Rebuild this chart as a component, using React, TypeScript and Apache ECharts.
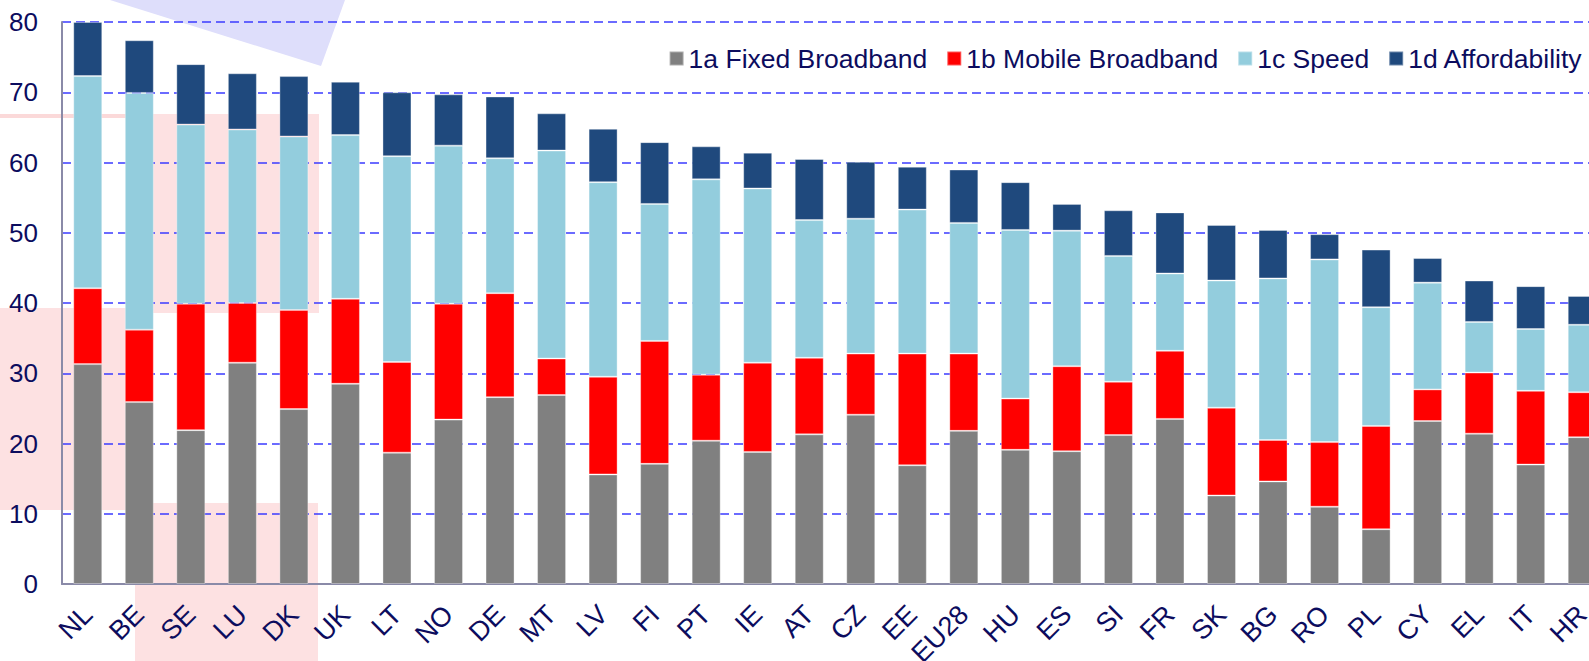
import React, { useEffect, useRef } from "react";
import * as echarts from "echarts";

const categories = ["NL","BE","SE","LU","DK","UK","LT","NO","DE","MT","LV","FI","PT","IE","AT","CZ","EE","EU28","HU","ES","SI","FR","SK","BG","RO","PL","CY","EL","IT","HR"];
const fixedBroadband = [31.3,25.9,21.9,31.5,24.9,28.5,18.7,23.4,26.6,26.9,15.6,17.1,20.4,18.8,21.3,24.1,16.9,21.8,19.1,18.9,21.2,23.5,12.6,14.6,11.0,7.8,23.2,21.4,17.0,20.9];
const mobileBroadband = [10.8,10.3,18.0,8.5,14.1,12.1,12.9,16.5,14.8,5.2,13.9,17.5,9.4,12.7,10.9,8.7,15.9,11.0,7.3,12.1,7.6,9.7,12.5,5.9,9.2,14.7,4.5,8.7,10.5,6.4];
const speed = [30.2,33.7,25.5,24.7,24.7,23.3,29.3,22.5,19.2,29.6,27.7,19.5,27.8,24.8,19.6,19.2,20.5,18.6,24.0,19.3,17.9,11.0,18.1,23.0,26.0,16.9,15.2,7.2,8.8,9.6];
const affordability = [7.7,7.5,8.6,8.0,8.6,7.6,9.1,7.3,8.8,5.3,7.6,8.8,4.7,5.1,8.7,8.1,6.1,7.6,6.8,3.8,6.5,8.7,7.9,6.9,3.6,8.2,3.5,5.9,6.1,4.1];
const seriesNames = ["1a Fixed Broadband","1b Mobile Broadband","1c Speed","1d Affordability"];
const yTicks = { min: 0, max: 80, interval: 10 };

const NAVY = "#0c0c5e";
const FONT = "'Liberation Sans', Arial, Helvetica, sans-serif";
const colors = ["#808080", "#ff0000", "#93cddd", "#1f497d"];
const PINK = "#fde1e2";

export default function App() {
  const ref = useRef<HTMLDivElement>(null);
  useEffect(() => {
    if (!ref.current) return;
    const chart = echarts.init(ref.current, null, { renderer: "svg" });
    const values = [fixedBroadband, mobileBroadband, speed, affordability];
    chart.setOption({
      animation: false,
      backgroundColor: "#ffffff",
      textStyle: { fontFamily: FONT },
      graphic: [
        { type: "polygon", z: -5, shape: { points: [[110, 0], [345, 0], [321, 66]] }, style: { fill: "#dedefb" } },
        { type: "rect", z: -5, shape: { x: 0, y: 114, width: 153, height: 4 }, style: { fill: "#fbd9d9" } },
        { type: "rect", z: -5, shape: { x: 153, y: 114, width: 166, height: 199 }, style: { fill: PINK } },
        { type: "rect", z: -5, shape: { x: 0, y: 308, width: 153, height: 202 }, style: { fill: PINK } },
        { type: "rect", z: -5, shape: { x: 135, y: 503, width: 183, height: 158 }, style: { fill: PINK } },
      ],
      legend: {
        data: seriesNames,
        right: 1,
        top: 40,
        icon: "rect",
        itemWidth: 14,
        itemHeight: 14,
        itemGap: 19,
        textStyle: { fontSize: 26.5, color: NAVY, fontFamily: FONT },
      },
      grid: { left: 62, top: 22, height: 562, width: 1546, containLabel: false, outerBoundsMode: "none" },
      xAxis: {
        type: "category",
        data: categories,
        axisLine: { lineStyle: { color: "#8a8aa8", width: 2 } },
        axisTick: { show: false },
        axisLabel: { rotate: 45, interval: 0, fontSize: 27, color: NAVY, margin: 26, fontFamily: FONT },
      },
      yAxis: {
        type: "value",
        min: yTicks.min,
        max: yTicks.max,
        interval: yTicks.interval,
        axisLine: { show: true, lineStyle: { color: "#8a8aa8", width: 2 } },
        axisTick: { show: false },
        axisLabel: { fontSize: 26, color: NAVY, margin: 24, fontFamily: FONT },
        splitLine: { show: true, lineStyle: { color: "#3b3bff", type: [9, 5], width: 1.6 } },
      },
      series: seriesNames.map((name, i) => ({
        name,
        type: "bar",
        stack: "total",
        barWidth: 29,
        data: values[i],
        itemStyle: { color: colors[i], borderColor: "rgba(255,255,255,0.35)", borderWidth: 1 },
      })),
    });
    return () => chart.dispose();
  }, []);
  return <div ref={ref} style={{ position: "fixed", left: 0, top: 0, width: 1589, height: 661 }} />;
}
